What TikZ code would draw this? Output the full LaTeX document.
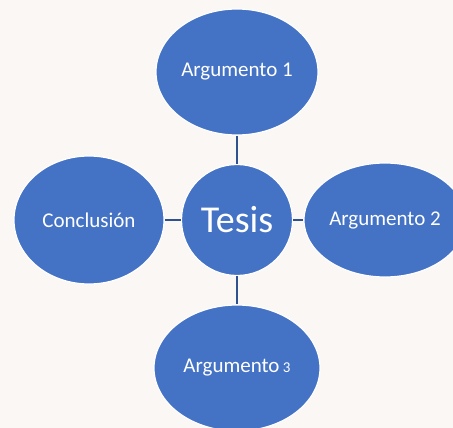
\documentclass[tikz,border=0pt]{standalone}
\usepackage{fontspec}
\setmainfont{Carlito}
\usetikzlibrary{shapes.geometric}
\definecolor{bg}{RGB}{250,247,245}
\definecolor{nodeblue}{RGB}{68,114,196}
\definecolor{linkblue}{RGB}{47,82,143}
\tikzset{
  bubble/.style={ellipse, fill=nodeblue, draw=white, line width=1.2pt, text=white, inner sep=0pt, font=\fontsize{21}{24}\selectfont},
  link/.style={draw=linkblue, line width=2.8pt}
}
\begin{document}
\begin{tikzpicture}[x=1pt,y=-1pt]
\fill[bg] (0,0) rectangle (453,428);
\useasboundingbox (0,0) rectangle (453,428);
\clip (0,0) rectangle (453,428);
\node[bubble, minimum width=162pt, minimum height=126pt] (a1) at (237,72) {Argumento 1};
\node[bubble, minimum width=150pt, minimum height=128pt] (c) at (89,220) {Conclusión};
\node[bubble, minimum width=162pt, minimum height=114pt] (a2) at (385,220) {Argumento 2};
\node[bubble, minimum width=166pt, minimum height=126pt] (a3) at (237,368) {Argumento\,{\fontsize{15}{17}\selectfont 3}};
\node[bubble, circle, minimum size=111pt, font=\fontsize{38}{40}\selectfont] (t) at (237,220) {Tesis};
\draw[link] (a1) -- (t);
\draw[link] (t) -- (a3);
\draw[link] (c) -- (t);
\draw[link] (t) -- (a2);
\end{tikzpicture}
\end{document}
